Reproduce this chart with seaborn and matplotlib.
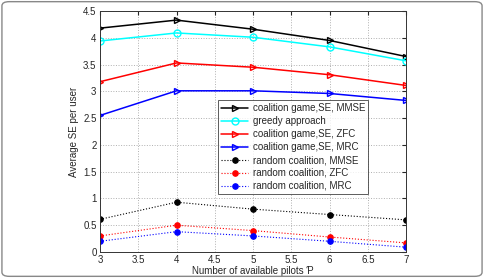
import matplotlib
matplotlib.use("Agg")
import matplotlib.pyplot as plt
import seaborn as sns
from matplotlib.patches import FancyBboxPatch

# data
pilots = [3, 4, 5, 6, 7]
cg_mmse = [4.18, 4.33, 4.16, 3.95, 3.65]
greedy = [3.94, 4.09, 4.01, 3.83, 3.57]
cg_zfc = [3.18, 3.53, 3.45, 3.31, 3.11]
cg_mrc = [2.55, 3.01, 3.01, 2.96, 2.83]
rnd_mmse = [0.61, 0.93, 0.80, 0.70, 0.60]
rnd_zfc = [0.30, 0.50, 0.40, 0.28, 0.17]
rnd_mrc = [0.20, 0.38, 0.30, 0.20, 0.09]

sns.set_style("white")
plt.rcParams['font.family'] = ['Liberation Sans', 'DejaVu Sans']
fs = 7

fig = plt.figure(figsize=(4.84, 2.78), dpi=100)
ax = fig.add_axes([100/484, 26/278, 306/484, 241/278])

solid = [
    (cg_mmse, 'black', '>', 'coalition game,SE, MMSE'),
    (greedy, 'cyan', 'o', 'greedy approach'),
    (cg_zfc, 'red', '>', 'coalition game,SE, ZFC'),
    (cg_mrc, 'blue', '>', 'coalition game,SE, MRC'),
]
for vals, c, m, lab in solid:
    sns.lineplot(x=pilots, y=vals, ax=ax, color=c, marker=m, markersize=5,
                 markerfacecolor='none', markeredgecolor=c, markeredgewidth=1.0,
                 linewidth=1.1, label=lab)

dotted = [
    (rnd_mmse, 'black', 'random coalition, MMSE'),
    (rnd_zfc, 'red', 'random coalition, ZFC'),
    (rnd_mrc, 'blue', 'random coalition, MRC'),
]
for vals, c, lab in dotted:
    sns.lineplot(x=pilots, y=vals, ax=ax, color=c, marker='o', markersize=4,
                 markeredgecolor=c, linestyle=':', linewidth=0.8, label=lab)

ax.set_xlim(3, 7)
ax.set_ylim(0, 4.5)
ax.set_xticks([3, 3.5, 4, 4.5, 5, 5.5, 6, 6.5, 7])
ax.set_xticklabels(['3', '3.5', '4', '4.5', '5', '5.5', '6', '6.5', '7'])
ax.set_yticks([0, 0.5, 1, 1.5, 2, 2.5, 3, 3.5, 4, 4.5])
ax.set_yticklabels(['0', '0.5', '1', '1.5', '2', '2.5', '3', '3.5', '4', '4.5'])
ax.grid(True, linestyle=':', color='#b0b0b0', linewidth=0.7)
ax.tick_params(direction='in', labelsize=fs, length=3, pad=2.5, top=True, right=True)
for s in ax.spines.values():
    s.set_color('#333333')
    s.set_linewidth(0.7)
ax.set_xlabel('Number of available pilots \u01a4', fontsize=fs, labelpad=0.5)
ax.set_ylabel('Average SE per user', fontsize=fs, labelpad=3)

leg = ax.legend(loc='upper left', bbox_to_anchor=(118/306, 1 - 89/241),
                fontsize=fs, frameon=True, fancybox=False, edgecolor='#333333',
                borderpad=0.35, labelspacing=0.3, handlelength=2.7,
                handletextpad=0.5, borderaxespad=0)
leg.get_frame().set_linewidth(0.7)

# rounded grey frame round the whole picture
fig.patches.append(FancyBboxPatch((0.004, 0.006), 0.992, 0.988,
                                  boxstyle="round,pad=0,rounding_size=0.015",
                                  transform=fig.transFigure, fill=False,
                                  edgecolor='#888888', linewidth=1.0))

fig.savefig('out.png', dpi=100)
